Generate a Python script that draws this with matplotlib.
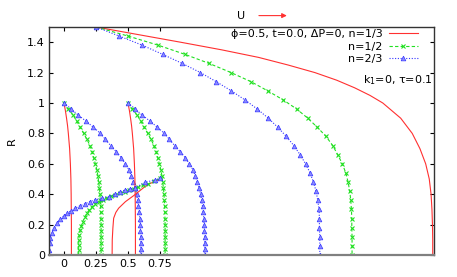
import numpy as np
import matplotlib.pyplot as plt

plt.rcParams['font.family'] = ['DejaVu Sans']
plt.rcParams['font.size'] = 8
plt.rcParams['mathtext.default'] = 'regular'

# ---- velocity profiles, tube radius 1.5, drawn at x = 0.25 + u ----
pos_big = 0.25
R_big = [1.5, 1.44, 1.38, 1.32, 1.26, 1.2, 1.14, 1.08, 1.02, 0.96, 0.9, 0.84, 0.78,
         0.72, 0.66, 0.6, 0.54, 0.48, 0.42, 0.36, 0.3, 0.24, 0.18, 0.12, 0.06, 0.0]
u_big_n12 = [0, 0.252, 0.487, 0.695, 0.885, 1.055, 1.211, 1.341, 1.463, 1.568, 1.654,
             1.729, 1.797, 1.849, 1.888, 1.924, 1.951, 1.969, 1.982, 1.99, 1.995, 1.998,
             1.998, 2.0, 2.0, 2.0]
u_big_n23 = [0, 0.182, 0.362, 0.521, 0.674, 0.816, 0.94, 1.057, 1.164, 1.26, 1.346,
             1.42, 1.487, 1.545, 1.594, 1.637, 1.672, 1.698, 1.719, 1.732, 1.742, 1.745,
             1.745, 1.748, 1.748, 1.748]
R_big_red = [1.5, 1.45, 1.4, 1.35, 1.3, 1.25, 1.2, 1.15, 1.1, 1.05, 1.0, 0.9, 0.8, 0.7,
             0.6, 0.5, 0.4, 0.3, 0.2, 0.1, 0.0]
u_big_n13 = [0, 0.33, 0.66, 0.98, 1.27, 1.5, 1.71, 1.88, 2.02, 2.14, 2.24, 2.38, 2.47,
             2.53, 2.575, 2.603, 2.617, 2.624, 2.628, 2.63, 2.63]

# ---- velocity profiles, tube radius 1, drawn at x = 0 and x = 0.5 ----
pos_small = [0.0, 0.5]
R_small = [1.0, 0.96, 0.92, 0.88, 0.84, 0.8, 0.76, 0.72, 0.68, 0.64, 0.6, 0.56, 0.52,
           0.48, 0.44, 0.4, 0.36, 0.32, 0.28, 0.24, 0.2, 0.16, 0.12, 0.08, 0.04, 0.0]
u_small_n12 = [0, 0.035, 0.071, 0.10, 0.127, 0.154, 0.18, 0.203, 0.22, 0.233, 0.245,
               0.257, 0.265, 0.271, 0.277, 0.281, 0.284, 0.286, 0.288, 0.289, 0.29,
               0.29, 0.29, 0.29, 0.29, 0.29]
u_small_n23 = [0, 0.057, 0.112, 0.173, 0.23, 0.285, 0.324, 0.365, 0.408, 0.447, 0.48,
               0.508, 0.526, 0.542, 0.556, 0.567, 0.575, 0.582, 0.588, 0.592, 0.595,
               0.597, 0.599, 0.6, 0.6, 0.6]
R_small_red = [1.0, 0.95, 0.9, 0.85, 0.8, 0.7, 0.6, 0.5, 0.4, 0.3, 0.2, 0.1, 0.0]
u_small_n13 = [0, 0.011, 0.02, 0.028, 0.034, 0.044, 0.05, 0.054, 0.056, 0.057, 0.058,
               0.058, 0.058]

# ---- rising curves ending at (0.75, 0.5) ----
x_rise_n13 = [0.376, 0.377, 0.382, 0.388, 0.405, 0.427, 0.48, 0.545, 0.649, 0.753]
R_rise_n13 = [0.0, 0.1, 0.178, 0.242, 0.28, 0.308, 0.351, 0.391, 0.461, 0.501]
x_rise_n12 = [0.115, 0.115, 0.115, 0.116, 0.12, 0.128, 0.136, 0.146, 0.162, 0.18, 0.198,
              0.22, 0.245, 0.271, 0.304, 0.337, 0.37, 0.402, 0.441, 0.48, 0.511, 0.545,
              0.581, 0.62, 0.659, 0.706, 0.753]
R_rise_n12 = [0.0, 0.033, 0.066, 0.099, 0.132, 0.165, 0.191, 0.22, 0.247, 0.275, 0.297,
              0.318, 0.336, 0.351, 0.363, 0.374, 0.386, 0.396, 0.407, 0.417, 0.427,
              0.435, 0.446, 0.458, 0.468, 0.485, 0.504]
x_rise_n23 = [-0.114, -0.114, -0.112, -0.106, -0.093, -0.075, -0.054, -0.028, -0.002,
              0.024, 0.058, 0.089, 0.123, 0.162, 0.201, 0.245, 0.298, 0.349, 0.402,
              0.441, 0.48, 0.519, 0.558, 0.636, 0.714, 0.753]
R_rise_n23 = [0.0, 0.033, 0.077, 0.11, 0.143, 0.176, 0.209, 0.235, 0.257, 0.275, 0.292,
              0.308, 0.323, 0.336, 0.351, 0.363, 0.374, 0.384, 0.4, 0.417, 0.428, 0.435,
              0.444, 0.479, 0.494, 0.506]

xticks = [0, 0.25, 0.5, 0.75]
xticklabels = ['0', '0.25', '0.5', '0.75']
yticks = [0, 0.2, 0.4, 0.6, 0.8, 1.0, 1.2, 1.4]
yticklabels = ['0', '0.2', '0.4', '0.6', '0.8', '1', '1.2', '1.4']

red = '#ff3030'
green = '#20e020'
blue = '#3535ff'
st_red = dict(color=red, lw=0.8)
st_green = dict(color=green, lw=0.8, ls=(0, (3, 2)), marker='x', ms=3.5, mew=0.8)
st_blue = dict(color=blue, lw=0.8, ls=(0, (1, 1.5)), marker='^', ms=3.4,
               mfc='#8c8cff', mec=blue, mew=0.5)

fig = plt.figure(figsize=(4.57, 2.77), dpi=100)
ax = fig.add_axes([49 / 457, 22 / 277, 385 / 457, 228 / 277])

ax.plot(pos_big + np.array(u_big_n13), R_big_red, label='ϕ=0.5, t=0.0, ΔP=0, n=1/3', **st_red)
ax.plot(pos_big + np.array(u_big_n12), R_big, label='n=1/2', **st_green)
ax.plot(pos_big + np.array(u_big_n23), R_big, label='n=2/3', **st_blue)
for p in pos_small:
    ax.plot(p + np.array(u_small_n13), R_small_red, **st_red)
    ax.plot(p + np.array(u_small_n12), R_small, **st_green)
    ax.plot(p + np.array(u_small_n23), R_small, **st_blue)
ax.plot(x_rise_n13, R_rise_n13, **st_red)
ax.plot(x_rise_n12, R_rise_n12, **st_green)
ax.plot(x_rise_n23, R_rise_n23, **st_blue)

ax.set_xlim(-0.117, 2.89)
ax.set_ylim(0, 1.5)
ax.set_xticks(xticks)
ax.set_xticklabels(xticklabels)
ax.set_yticks(yticks)
ax.set_yticklabels(yticklabels)
ax.tick_params(direction='in', length=3, width=0.8, top=True, right=True, pad=3)
ax.set_ylabel('R', labelpad=7)
for s in ['left', 'right', 'top']:
    ax.spines[s].set_color('#333333')
    ax.spines[s].set_linewidth(1.0)
ax.spines['bottom'].set_color('#808080')
ax.spines['bottom'].set_linewidth(1.6)

leg = ax.legend(loc='upper right', bbox_to_anchor=(0.958, 0.99), frameon=False,
                markerfirst=False, handlelength=2.6, handletextpad=0.6,
                labelspacing=0.22, borderpad=0, borderaxespad=0)
for t in leg.get_texts():
    t.set_ha('right')

ax.text(0.997, 0.766, 'k$_1$=0, τ=0.1', transform=ax.transAxes, ha='right', va='center')
ax.text(0.5, 1.048, 'U', transform=ax.transAxes, ha='center', va='center')
ax.annotate('', xy=(0.625, 1.05), xytext=(0.538, 1.05), xycoords='axes fraction',
            textcoords='axes fraction',
            arrowprops=dict(arrowstyle='-|>', color=red, lw=0.8, mutation_scale=7))

fig.savefig('out.png', dpi=100)
